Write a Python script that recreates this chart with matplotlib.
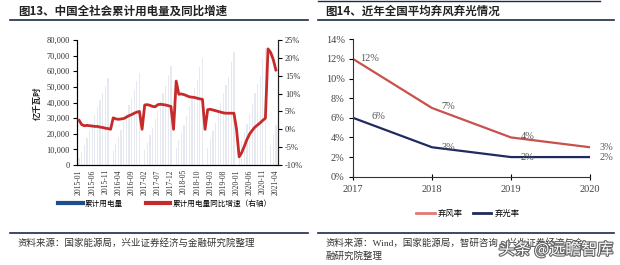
import numpy as np
import matplotlib
matplotlib.use('Agg')
import matplotlib.pyplot as plt
from matplotlib.lines import Line2D
import matplotlib.patheffects as pe

plt.rcParams['font.family'] = ['Liberation Serif', 'Noto Sans CJK SC']
CJK = ['Noto Sans CJK SC', 'DejaVu Sans']

# ---- 图13 data: cumulative power use (亿千瓦时) and yoy growth (%) ----
years = [2015, 2016, 2017, 2018, 2019, 2020, 2021]
month_labels = [f'{y}-{m:02d}' for y in years for m in range(1, 13)][:76]

use_2015 = [4500, 8610, 13080, 17370, 21770, 26660, 31830, 36950, 41470, 45830, 50300, 55500]
use_2016 = [0, 8900, 13500, 17900, 22400, 27400, 32900, 38300, 43100, 47700, 53800, 59200]
use_2017 = [0, 9460, 14380, 19060, 23850, 29150, 35020, 40890, 45980, 50720, 57600, 63080]
use_2018 = [0, 10700, 15800, 20600, 25700, 31600, 37900, 44100, 49600, 54600, 62700, 68400]
use_2019 = [0, 10800, 16800, 21900, 27000, 33000, 39500, 46000, 51500, 56500, 66000, 72300]
use_2020 = [0, 10200, 15600, 21000, 26300, 32600, 39200, 46300, 51900, 57200, 68000, 75100]
use_2021 = [0, 12600, 19200, 25600]

gr_2015 = [2.5, 1.3, 1.0, 1.1, 1.0, 0.9, 0.8, 0.8, 0.6, 0.5, 0.3, 0.2]
gr_2016 = [0.0, 3.2, 2.9, 2.8, 2.9, 3.0, 3.4, 3.8, 4.1, 4.5, 4.8, 5.0]
gr_2017 = [0.0, 6.8, 6.9, 6.7, 6.4, 6.3, 6.9, 7.0, 6.9, 6.8, 6.6, 6.4]
gr_2018 = [0.0, 13.5, 9.8, 9.9, 9.7, 9.4, 9.1, 9.0, 8.9, 8.7, 8.5, 8.4]
gr_2019 = [0.0, 5.5, 5.6, 5.4, 5.2, 5.0, 4.8, 4.6, 4.5, 4.5, 4.5, 4.5]
gr_2020 = [0.0, -7.7, -6.5, -4.7, -2.8, -1.3, -0.3, 0.6, 1.2, 1.8, 2.5, 3.1]
gr_2021 = [22.5, 21.5, 19.5, 16.6]

usage = use_2015 + use_2016 + use_2017 + use_2018 + use_2019 + use_2020 + use_2021
growth = gr_2015 + gr_2016 + gr_2017 + gr_2018 + gr_2019 + gr_2020 + gr_2021

# ---- 图14 data: curtailment rates (%) ----
curt_years = ['2017', '2018', '2019', '2020']
wind_rate = [12, 7, 4, 3]
solar_rate = [6, 3, 2, 2]

W, H = 620, 265


def fx(px):
    return px / W


def fy(py):
    return 1 - py / H


fig = plt.figure(figsize=(6.2, 2.65), dpi=100)

# ---------------- left chart ----------------
ax1 = fig.add_axes([fx(77), fy(165), (278 - 77) / W, 125 / H])
x = np.arange(len(month_labels))
ax1.bar(x, usage, width=0.5, color='#e6eaf0', zorder=1)
ax1.set_xlim(-0.8, 75.8)
ax1.set_ylim(0, 80000)
ax1.set_yticks(range(0, 80001, 10000))
ax1.set_yticklabels([f'{v:,}' for v in range(0, 80001, 10000)])
ax1.set_xticks(x[::5])
ax1.set_xticklabels(month_labels[::5], rotation=90)
ax1.tick_params(axis='x', length=0, pad=3, labelsize=5.5, labelcolor='#333')
ax1.tick_params(axis='y', length=3, pad=2, labelsize=6, labelcolor='#333')
ax1.spines['top'].set_visible(False)
for s in ['left', 'bottom', 'right']:
    ax1.spines[s].set_color('#222')

ax2 = ax1.twinx()
ax2.plot(x, growth, color='#c62a2a', lw=2.0, zorder=3)
ax2.set_ylim(-10, 25)
ax2.set_yticks(range(-10, 26, 5))
ax2.set_yticklabels([f'{v}%' for v in range(-10, 26, 5)])
ax2.tick_params(axis='y', length=3, pad=2, labelsize=6, labelcolor='#333')
ax2.spines['top'].set_visible(False)
ax2.spines['right'].set_color('#222')

fig.text(fx(37), fy(103), '亿千瓦时', rotation=90, ha='center', va='center',
         fontsize=6, fontweight='bold', family=CJK, color='#222')

h1 = [Line2D([], [], color='#1f4e8c', lw=3), Line2D([], [], color='#c62a2a', lw=3)]
fig.legend(h1, ['累计用电量', '累计用电量同比增速（右轴）'], loc='center',
           bbox_to_anchor=(fx(165), fy(204)), ncol=2, frameon=False,
           prop={'family': CJK, 'size': 5.5}, handlelength=3.2, columnspacing=3,
           handletextpad=0.3)

# ---------------- right chart ----------------
ax3 = fig.add_axes([fx(353), fy(176.7), (590 - 353) / W, 137.4 / H])
xr = np.arange(len(curt_years))
ax3.plot(xr, wind_rate, color='#c9514d', lw=1.6)
ax3.plot(xr, solar_rate, color='#1f2b5e', lw=1.6)
ax3.set_xlim(0, 3)
ax3.set_ylim(0, 14)
ax3.set_yticks(range(0, 15, 2))
ax3.set_yticklabels([f'{v}%' for v in range(0, 15, 2)])
ax3.set_xticks(xr)
ax3.set_xticklabels(curt_years)
ax3.tick_params(axis='x', direction='inout', length=4, pad=4, labelsize=7.5, labelcolor='#444')
ax3.tick_params(axis='y', direction='out', length=3, pad=3, labelsize=7.5, labelcolor='#444')
for s in ['top', 'right']:
    ax3.spines[s].set_visible(False)
for s in ['left', 'bottom']:
    ax3.spines[s].set_color('#333')

wind_off = [(5, 0), (7, 1), (7, 1), (7, 0)]
solar_off = [(13, 1), (7, 0), (7, 0), (7, 0)]
for i, v in enumerate(wind_rate):
    ax3.annotate(f'{v}%', (xr[i], v), xytext=wind_off[i], textcoords='offset points',
                 ha='left', va='center', fontsize=7.5, color='#555')
for i, v in enumerate(solar_rate):
    ax3.annotate(f'{v}%', (xr[i], v), xytext=solar_off[i], textcoords='offset points',
                 ha='left', va='center', fontsize=7.5, color='#555')

h2 = [Line2D([], [], color='#e07a78', lw=2), Line2D([], [], color='#1f2b5e', lw=2)]
fig.legend(h2, ['弃风率', '弃光率'], loc='center', bbox_to_anchor=(fx(468), fy(213)),
           ncol=2, frameon=False, prop={'family': CJK, 'size': 6},
           handlelength=2.2, columnspacing=1.2, handletextpad=0.4)

# ---------------- headers / footers ----------------
line_c = '#1c2a48'
fig.text(fx(18), fy(11), '图13、中国全社会累计用电量及同比增速', ha='left', va='center',
         fontsize=8.3, fontweight='bold', family=CJK, color='#222')
fig.text(fx(325), fy(11), '图14、近年全国平均弃风弃光情况', ha='left', va='center',
         fontsize=8.3, fontweight='bold', family=CJK, color='#222')
fig.add_artist(Line2D([fx(10), fx(308)], [fy(19.5), fy(19.5)], color=line_c, lw=1.2))
fig.add_artist(Line2D([fx(318), fx(614)], [fy(19.5), fy(19.5)], color=line_c, lw=1.2))
fig.add_artist(Line2D([fx(318), fx(600)], [fy(0.8), fy(0.8)], color=line_c, lw=1.0))
fig.add_artist(Line2D([fx(10), fx(308)], [fy(233), fy(233)], color=line_c, lw=1.2))
fig.add_artist(Line2D([fx(318), fx(614)], [fy(233), fy(233)], color=line_c, lw=1.2))

fig.text(fx(17), fy(243), '资料来源：国家能源局，兴业证券经济与金融研究院整理', ha='left', va='center',
         fontsize=6.8, color='#333')
fig.text(fx(325), fy(243), '资料来源：Wind，国家能源局，智研咨询，兴业证券经济与金', ha='left',
         va='center', fontsize=6.8, color='#333')
fig.text(fx(325), fy(256), '融研究院整理', ha='left', va='center', fontsize=6.8, color='#333')

fig.text(fx(556), fy(250), '头条 @远瞻智库', ha='center', va='center', fontsize=11.5,
         family=CJK, color='white',
         path_effects=[pe.withStroke(linewidth=1.6, foreground='#666')])

fig.savefig('out.png', dpi=100)
